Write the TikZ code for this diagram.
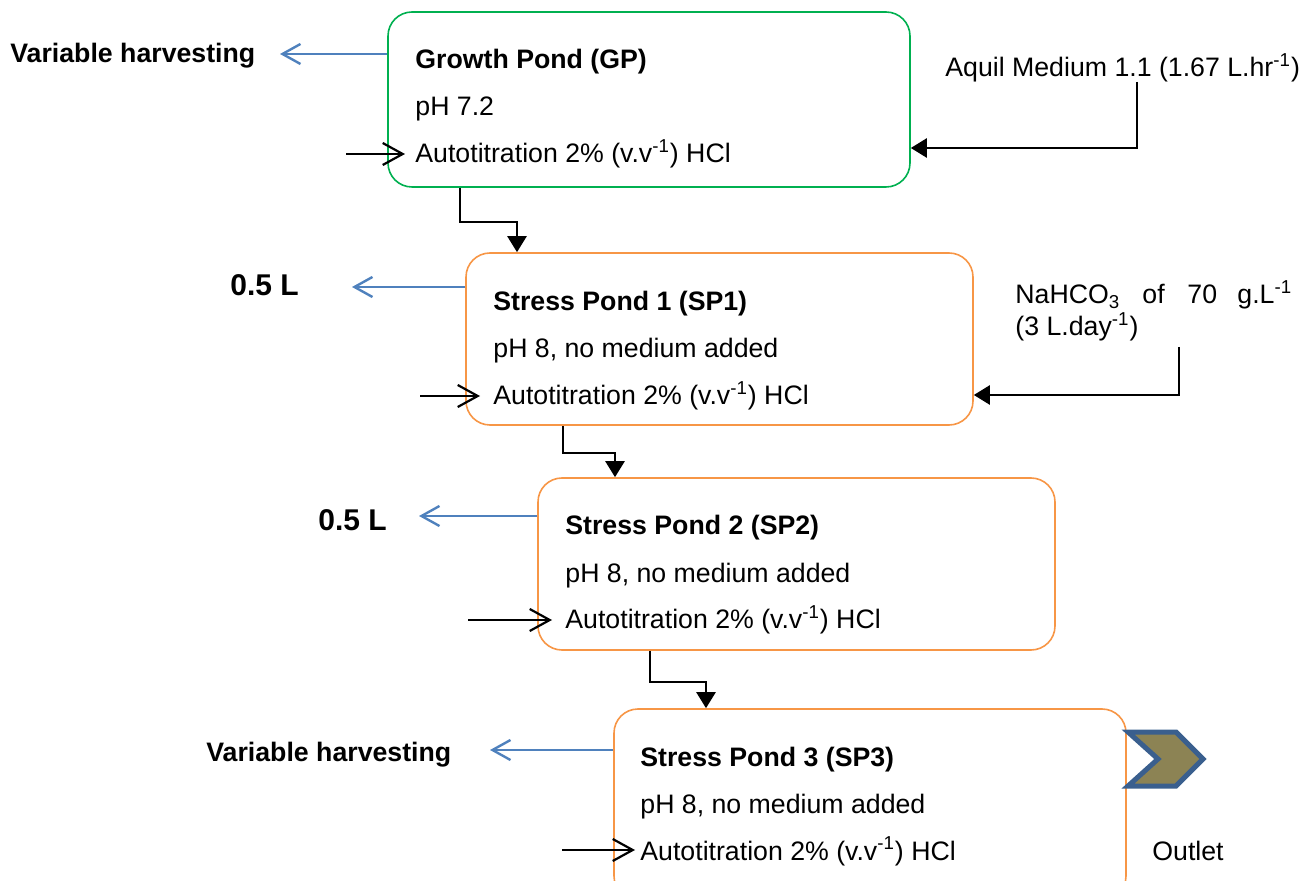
\documentclass[tikz,border=0pt]{standalone}
\usepackage{fontspec}
\setmainfont{Liberation Sans}
\usetikzlibrary{arrows.meta,fit}
\definecolor{gpgreen}{HTML}{00B050}
\definecolor{sporange}{HTML}{F79646}
\definecolor{harvblue}{HTML}{4F81BD}
\definecolor{outletfill}{HTML}{8C8354}
\definecolor{outletedge}{HTML}{3A5F8E}
\begin{document}
\begin{tikzpicture}[x=0.5pt,y=-0.5pt,
  font=\fontsize{13.35}{16}\selectfont,
  pond/.style={draw=#1, line width=0.8pt, rounded corners=12pt, inner sep=0pt},
  txt/.style={anchor=base west, inner sep=0pt},
  lbl/.style={anchor=base west, inner sep=0pt, font=\fontsize{13.35}{16}\selectfont\bfseries},
  biglbl/.style={anchor=base west, inner sep=0pt, font=\fontsize{15}{18}\selectfont\bfseries},
  conn/.style={line width=1.2pt, -{Triangle[length=8pt,width=9.5pt]}},
  feed/.style={line width=1.1pt, -{Straight Barb[length=10pt,width=11pt]}},
  harv/.style={draw=harvblue, line width=1.2pt, -{Straight Barb[length=9pt,width=10pt]}},
]
\useasboundingbox (0,0) rectangle (1301,881);
\clip (0,0) rectangle (1301,881);

% ponds
\node[pond=gpgreen, fit={(388,12) (910,187)}] (gp) {};
\node[pond=sporange, fit={(466,253) (973,425)}] (sp1) {};
\node[pond=sporange, fit={(538,478) (1055,650)}] (sp2) {};
\node[pond=sporange, fit={(614,709) (1126,900)}] (sp3) {};

% pond texts
\node[lbl] (gpa) at (415,69) {Growth Pond (GP)};
\node[txt] (gpb) at (415,116) {pH 7.2};
\node[txt] (gpc) at (415,163) {Autotitration 2\% (v.v\textsuperscript{-1}) HCl};

\node[lbl] (spa1) at (493,311) {Stress Pond 1 (SP1)};
\node[txt] (spb1) at (493,358) {pH 8, no medium added};
\node[txt] (spc1) at (493,405) {Autotitration 2\% (v.v\textsuperscript{-1}) HCl};

\node[lbl] (spa2) at (565,535) {Stress Pond 2 (SP2)};
\node[txt] (spb2) at (565,582) {pH 8, no medium added};
\node[txt] (spc2) at (565,629) {Autotitration 2\% (v.v\textsuperscript{-1}) HCl};

\node[lbl] (spa3) at (640,766) {Stress Pond 3 (SP3)};
\node[txt] (spb3) at (640,813) {pH 8, no medium added};
\node[txt] (spc3) at (640,860) {Autotitration 2\% (v.v\textsuperscript{-1}) HCl};

% harvest labels
\node[lbl] (hv0) at (10,63) {Variable harvesting};
\node[biglbl] (hv1) at (230,296) {0.5 L};
\node[biglbl] (hv2) at (318,531) {0.5 L};
\node[lbl] (hv3) at (206,761) {Variable harvesting};

% harvest arrows
\coordinate (h0) at (280,54);
\coordinate (h1) at (352,287);
\coordinate (h2) at (419,516);
\coordinate (h3) at (490,750);
\draw[harv] (gp.west |- h0) -- (h0);
\draw[harv] (sp1.west |- h1) -- (h1);
\draw[harv] (sp2.west |- h2) -- (h2);
\draw[harv] (sp3.west |- h3) -- (h3);

% titrant feeds
\coordinate (f0) at (346,154);  \coordinate (g0) at (405,154);
\coordinate (f1) at (420,396);  \coordinate (g1) at (480,396);
\coordinate (f2) at (468,620);  \coordinate (g2) at (552,620);
\coordinate (f3) at (562,850);  \coordinate (g3) at (635,850);
\draw[feed] (f0) -- (g0);
\draw[feed] (f1) -- (g1);
\draw[feed] (f2) -- (g2);
\draw[feed] (f3) -- (g3);

% transfers between ponds
\coordinate (k0) at (460,222); \coordinate (k1) at (517,222);
\coordinate (k2) at (563,453); \coordinate (k3) at (615,453);
\coordinate (k4) at (650,682); \coordinate (k5) at (706,682);
\draw[conn] (gp.south -| k0) |- (k1) -- (sp1.north -| k1);
\draw[conn] (sp1.south -| k2) |- (k3) -- (sp2.north -| k3);
\draw[conn] (sp2.south -| k4) |- (k5) -- (sp3.north -| k5);

% medium and bicarbonate supply
\node[txt] (aq) at (945,77) {Aquil Medium 1.1 (1.67 L.hr\textsuperscript{-1})};
\node[txt] (nb1) at (1015,304) {NaHCO\textsubscript{3}};
\node[txt] (nb2) at (1142,304) {of};
\node[txt] (nb3) at (1187,304) {70};
\node[txt] (nb4) at (1237,304) {g.L\textsuperscript{-1}};
\node[txt] (nb5) at (1015,336) {(3 L.day\textsuperscript{-1})};

\coordinate (a0) at (1137,82);  \coordinate (a1) at (1137,148);
\coordinate (b0) at (1179,347); \coordinate (b1) at (1179,395);
\draw[conn] (a0) -- (a1) -- (gp.east |- a1);
\draw[conn] (b0) -- (b1) -- (sp1.east |- b1);

% outlet
\draw[outletedge, fill=outletfill, line width=2.5pt, line join=miter]
  (1128,732) -- (1176,732) -- (1203,759) -- (1176,786) -- (1128,786) -- (1158,759) -- cycle;
\node[txt] (outlet) at (1152,860) {Outlet};
\end{tikzpicture}
\end{document}
